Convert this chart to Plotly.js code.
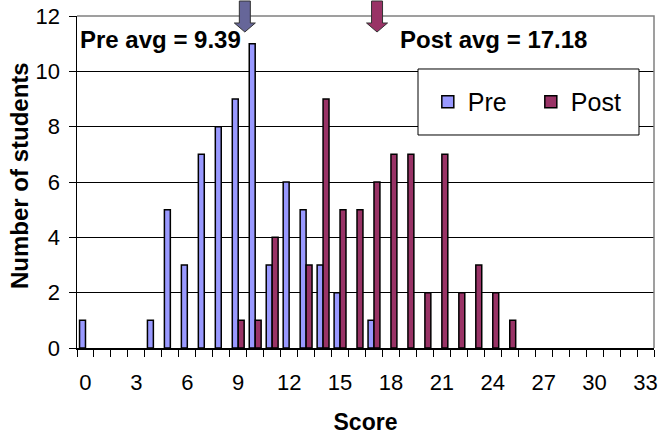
<!DOCTYPE html>
<html>
<head>
<meta charset="utf-8">
<script src="https://cdn.plot.ly/plotly-3.0.1.min.js"></script>
<style>html,body{margin:0;padding:0;background:#fff;}#chart{width:662px;height:438px;}</style>
</head>
<body>
<div id="chart"></div>
<script>
// ---- data ----
const scores = [0,1,2,3,4,5,6,7,8,9,10,11,12,13,14,15,16,17,18,19,20,21,22,23,24,25,26,27,28,29,30,31,32,33];
const preCounts = [1,0,0,0,1,5,3,7,8,9,11,3,6,5,3,2,0,1,0,0,0,0,0,0,0,0,0,0,0,0,0,0,0,0];
const postCounts = [0,0,0,0,0,0,0,0,0,1,1,4,0,3,9,5,5,6,7,7,2,7,2,3,2,1,0,0,0,0,0,0,0,0];
const xTickLabels = ['0','','','3','','','6','','','9','','','12','','','15','','','18','','','21','','','24','','','27','','','30','','','33'];
const yTickVals = [0,2,4,6,8,10,12];
const seriesNames = ['Pre','Post'];
const preAvg = 9.39;
const postAvg = 17.18;

const FONT = 'Liberation Sans, Arial, sans-serif';
// zero counts are not drawn as bars
const noZero = v => (v === 0 ? null : v);

const traces = [
  {type:'bar', name:seriesNames[0], x:scores, y:preCounts.map(noZero),
   marker:{color:'#9999FF', line:{color:'#000', width:1.5}}},
  {type:'bar', name:seriesNames[1], x:scores, y:postCounts.map(noZero),
   marker:{color:'#993366', line:{color:'#000', width:1.5}}}
];

function arrowShape(xval, fill){
  return {type:'path', xref:'x', yref:'paper', xsizemode:'pixel', ysizemode:'pixel',
    xanchor:xval, yanchor:1,
    path:'M-5.5,15 L5.5,15 L5.5,-7 L10.5,-7 L0,-16 L-10.5,-7 L-5.5,-7 Z',
    fillcolor:fill, line:{color:'#333', width:1}, layer:'above'};
}

const layout = {
  width:662, height:438,
  margin:{l:77, r:8, t:16, b:90},
  paper_bgcolor:'#fff', plot_bgcolor:'#fff',
  font:{family:FONT, size:22, color:'#000'},
  barmode:'group', bargap:0.3, bargroupgap:0,
  showlegend:true,
  xaxis:{type:'category', tickvals:scores, ticktext:xTickLabels, tickson:'boundaries', tickangle:0,
    ticks:'outside', ticklen:7, tickcolor:'#000', tickwidth:1,
    showline:true, linecolor:'#000', linewidth:1.5, showgrid:false,
    range:[-0.5,33.5], tickfont:{size:22}, ticklabelstandoff:14,
    title:{text:'<b>Score</b>', font:{size:23}, standoff:20}},
  yaxis:{range:[0,12], tickvals:yTickVals, ticks:'outside', ticklen:7, tickcolor:'#000', tickwidth:1,
    showline:true, linecolor:'#000', linewidth:1.5,
    showgrid:true, gridcolor:'#000', gridwidth:1, zeroline:false,
    tickfont:{size:22}, ticklabelstandoff:4},
  legend:{orientation:'h', x:0.608, y:0.741, xanchor:'left', yanchor:'middle',
    bgcolor:'rgba(0,0,0,0)', borderwidth:0, font:{size:25}, entrywidth:58},
  shapes:[
    {type:'path', xref:'paper', yref:'paper', path:'M0,1 L1,1 L1,0', line:{color:'#808080', width:1.5}, layer:'above'},
    {type:'rect', xref:'paper', yref:'paper', x0:0.591, x1:0.974, y0:0.6416, y1:0.8404,
     fillcolor:'#fff', line:{color:'#000', width:1}, layer:'above'},
    arrowShape(preAvg, '#666699'),
    arrowShape(postAvg, '#993366')
  ],
  annotations:[
    {xref:'paper', yref:'paper', x:0, y:0.5, xanchor:'center', yanchor:'middle', xshift:-58, yshift:6,
     textangle:-90, showarrow:false, text:'<b>Number of students</b>', font:{size:24}},
    {xref:'paper', yref:'paper', x:0, y:1, xanchor:'left', yanchor:'middle', xshift:1, yshift:-23,
     showarrow:false, text:'<b>Pre avg = ' + preAvg.toFixed(2) + '</b>', font:{size:24}},
    {xref:'paper', yref:'paper', x:0.5575, y:1, xanchor:'left', yanchor:'middle', xshift:-1, yshift:-23,
     showarrow:false, text:'<b>Post avg = ' + postAvg.toFixed(2) + '</b>', font:{size:24}}
  ]
};

Plotly.newPlot('chart', traces, layout, {displayModeBar:false, staticPlot:true});
</script>
</body>
</html>
